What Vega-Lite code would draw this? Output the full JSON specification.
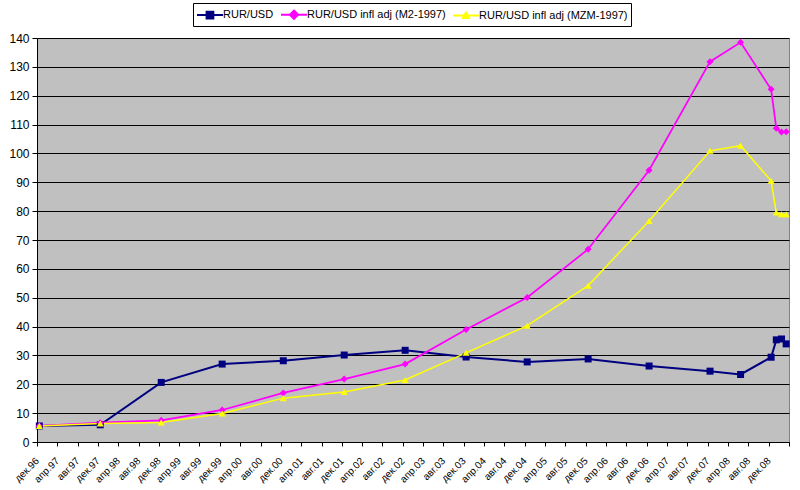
{
  "$schema": "https://vega.github.io/schema/vega-lite/v6.json",
  "width": 752,
  "height": 404,
  "autosize": "none",
  "padding": {"left": 37, "top": 38, "right": 11, "bottom": 48},
  "background": "#FFFFFF",
  "config": {
    "font": "Arial",
    "view": {"fill": "#C0C0C0", "stroke": "#808080", "strokeWidth": 1},
    "axis": {"labelFont": "Arial", "labelColor": "#000000", "labelFontSize": 11, "domainColor": "#000000", "tickColor": "#000000", "title": null},
    "legend": {"labelFont": "Arial"}
  },
  "data": {
    "values": [
      {"date": "1996-12-15T00:00:00", "series": "RUR/USD", "value": 5.56},
      {"date": "1997-12-15T00:00:00", "series": "RUR/USD", "value": 5.96},
      {"date": "1998-12-15T00:00:00", "series": "RUR/USD", "value": 20.65},
      {"date": "1999-12-15T00:00:00", "series": "RUR/USD", "value": 27.0},
      {"date": "2000-12-15T00:00:00", "series": "RUR/USD", "value": 28.16},
      {"date": "2001-12-15T00:00:00", "series": "RUR/USD", "value": 30.14},
      {"date": "2002-12-15T00:00:00", "series": "RUR/USD", "value": 31.78},
      {"date": "2003-12-15T00:00:00", "series": "RUR/USD", "value": 29.45},
      {"date": "2004-12-15T00:00:00", "series": "RUR/USD", "value": 27.75},
      {"date": "2005-12-15T00:00:00", "series": "RUR/USD", "value": 28.78},
      {"date": "2006-12-15T00:00:00", "series": "RUR/USD", "value": 26.33},
      {"date": "2007-12-15T00:00:00", "series": "RUR/USD", "value": 24.55},
      {"date": "2008-06-15T00:00:00", "series": "RUR/USD", "value": 23.4},
      {"date": "2008-12-15T00:00:00", "series": "RUR/USD", "value": 29.38},
      {"date": "2009-01-15T00:00:00", "series": "RUR/USD", "value": 35.4},
      {"date": "2009-02-15T00:00:00", "series": "RUR/USD", "value": 35.7},
      {"date": "2009-03-15T00:00:00", "series": "RUR/USD", "value": 34.0},
      {"date": "1996-12-15T00:00:00", "series": "RUR/USD infl adj (M2-1997)", "value": 5.56},
      {"date": "1997-12-15T00:00:00", "series": "RUR/USD infl adj (M2-1997)", "value": 6.7},
      {"date": "1998-12-15T00:00:00", "series": "RUR/USD infl adj (M2-1997)", "value": 7.5},
      {"date": "1999-12-15T00:00:00", "series": "RUR/USD infl adj (M2-1997)", "value": 11.1},
      {"date": "2000-12-15T00:00:00", "series": "RUR/USD infl adj (M2-1997)", "value": 17.0},
      {"date": "2001-12-15T00:00:00", "series": "RUR/USD infl adj (M2-1997)", "value": 21.8},
      {"date": "2002-12-15T00:00:00", "series": "RUR/USD infl adj (M2-1997)", "value": 27.0},
      {"date": "2003-12-15T00:00:00", "series": "RUR/USD infl adj (M2-1997)", "value": 39.0},
      {"date": "2004-12-15T00:00:00", "series": "RUR/USD infl adj (M2-1997)", "value": 50.1},
      {"date": "2005-12-15T00:00:00", "series": "RUR/USD infl adj (M2-1997)", "value": 66.8},
      {"date": "2006-12-15T00:00:00", "series": "RUR/USD infl adj (M2-1997)", "value": 94.2},
      {"date": "2007-12-15T00:00:00", "series": "RUR/USD infl adj (M2-1997)", "value": 131.8},
      {"date": "2008-06-15T00:00:00", "series": "RUR/USD infl adj (M2-1997)", "value": 138.5},
      {"date": "2008-12-15T00:00:00", "series": "RUR/USD infl adj (M2-1997)", "value": 122.2},
      {"date": "2009-01-15T00:00:00", "series": "RUR/USD infl adj (M2-1997)", "value": 108.7},
      {"date": "2009-02-15T00:00:00", "series": "RUR/USD infl adj (M2-1997)", "value": 107.4},
      {"date": "2009-03-15T00:00:00", "series": "RUR/USD infl adj (M2-1997)", "value": 107.5},
      {"date": "1996-12-15T00:00:00", "series": "RUR/USD infl adj (MZM-1997)", "value": 5.56},
      {"date": "1997-12-15T00:00:00", "series": "RUR/USD infl adj (MZM-1997)", "value": 6.4},
      {"date": "1998-12-15T00:00:00", "series": "RUR/USD infl adj (MZM-1997)", "value": 6.8},
      {"date": "1999-12-15T00:00:00", "series": "RUR/USD infl adj (MZM-1997)", "value": 9.9},
      {"date": "2000-12-15T00:00:00", "series": "RUR/USD infl adj (MZM-1997)", "value": 15.2},
      {"date": "2001-12-15T00:00:00", "series": "RUR/USD infl adj (MZM-1997)", "value": 17.3},
      {"date": "2002-12-15T00:00:00", "series": "RUR/USD infl adj (MZM-1997)", "value": 21.5},
      {"date": "2003-12-15T00:00:00", "series": "RUR/USD infl adj (MZM-1997)", "value": 30.9},
      {"date": "2004-12-15T00:00:00", "series": "RUR/USD infl adj (MZM-1997)", "value": 40.3},
      {"date": "2005-12-15T00:00:00", "series": "RUR/USD infl adj (MZM-1997)", "value": 54.2},
      {"date": "2006-12-15T00:00:00", "series": "RUR/USD infl adj (MZM-1997)", "value": 76.6},
      {"date": "2007-12-15T00:00:00", "series": "RUR/USD infl adj (MZM-1997)", "value": 100.9},
      {"date": "2008-06-15T00:00:00", "series": "RUR/USD infl adj (MZM-1997)", "value": 102.7},
      {"date": "2008-12-15T00:00:00", "series": "RUR/USD infl adj (MZM-1997)", "value": 90.5},
      {"date": "2009-01-15T00:00:00", "series": "RUR/USD infl adj (MZM-1997)", "value": 79.5},
      {"date": "2009-02-15T00:00:00", "series": "RUR/USD infl adj (MZM-1997)", "value": 78.9},
      {"date": "2009-03-15T00:00:00", "series": "RUR/USD infl adj (MZM-1997)", "value": 78.9}
    ]
  },
  "encoding": {
    "x": {
      "field": "date", "type": "temporal",
      "scale": {"domain": [{"year": 1996, "month": 12, "date": 1}, {"year": 2009, "month": 4, "date": 1}], "nice": false},
      "axis": {
        "values": [
          {"year": 1996, "month": 12, "date": 1},
          {"year": 1997, "month": 4, "date": 1}, {"year": 1997, "month": 8, "date": 1}, {"year": 1997, "month": 12, "date": 1},
          {"year": 1998, "month": 4, "date": 1}, {"year": 1998, "month": 8, "date": 1}, {"year": 1998, "month": 12, "date": 1},
          {"year": 1999, "month": 4, "date": 1}, {"year": 1999, "month": 8, "date": 1}, {"year": 1999, "month": 12, "date": 1},
          {"year": 2000, "month": 4, "date": 1}, {"year": 2000, "month": 8, "date": 1}, {"year": 2000, "month": 12, "date": 1},
          {"year": 2001, "month": 4, "date": 1}, {"year": 2001, "month": 8, "date": 1}, {"year": 2001, "month": 12, "date": 1},
          {"year": 2002, "month": 4, "date": 1}, {"year": 2002, "month": 8, "date": 1}, {"year": 2002, "month": 12, "date": 1},
          {"year": 2003, "month": 4, "date": 1}, {"year": 2003, "month": 8, "date": 1}, {"year": 2003, "month": 12, "date": 1},
          {"year": 2004, "month": 4, "date": 1}, {"year": 2004, "month": 8, "date": 1}, {"year": 2004, "month": 12, "date": 1},
          {"year": 2005, "month": 4, "date": 1}, {"year": 2005, "month": 8, "date": 1}, {"year": 2005, "month": 12, "date": 1},
          {"year": 2006, "month": 4, "date": 1}, {"year": 2006, "month": 8, "date": 1}, {"year": 2006, "month": 12, "date": 1},
          {"year": 2007, "month": 4, "date": 1}, {"year": 2007, "month": 8, "date": 1}, {"year": 2007, "month": 12, "date": 1},
          {"year": 2008, "month": 4, "date": 1}, {"year": 2008, "month": 8, "date": 1}, {"year": 2008, "month": 12, "date": 1},
          {"year": 2009, "month": 4, "date": 1}
        ],
        "labelExpr": "year(datum.value) == 2009 ? '' : ['янв','фев','мар','апр','май','июн','июл','авг','сен','окт','ноя','дек'][month(datum.value)] + '.' + timeFormat(datum.value, '%y')",
        "labelAngle": -45, "labelAlign": "right", "labelBaseline": "middle", "labelFontSize": 10,
        "labelOverlap": false, "labelBound": false, "labelFlush": false,
        "tickSize": 4, "labelPadding": 13, "grid": false
      }
    },
    "y": {
      "field": "value", "type": "quantitative",
      "scale": {"domain": [0, 140], "nice": false},
      "axis": {
        "values": [0, 10, 20, 30, 40, 50, 60, 70, 80, 90, 100, 110, 120, 130, 140],
        "grid": true, "gridColor": "#000000", "gridWidth": 1, "gridOpacity": 1,
        "tickSize": 5, "labelPadding": 3, "labelFontSize": 12
      }
    }
  },
  "layer": [
    {
      "mark": {"type": "line", "interpolate": "linear"},
      "encoding": {
        "color": {"field": "series", "type": "nominal", "scale": {"domain": ["RUR/USD", "RUR/USD infl adj (M2-1997)", "RUR/USD infl adj (MZM-1997)"], "range": ["#000080", "#FF00FF", "#FFFF00"]}, "legend": null},
        "strokeWidth": {"field": "series", "type": "nominal", "scale": {"domain": ["RUR/USD", "RUR/USD infl adj (M2-1997)", "RUR/USD infl adj (MZM-1997)"], "range": [2, 1.5, 1.5]}, "legend": null}
      }
    },
    {
      "mark": {"type": "point", "filled": true, "opacity": 1},
      "encoding": {
        "color": {"field": "series", "type": "nominal", "legend": null},
        "shape": {"field": "series", "type": "nominal", "scale": {"domain": ["RUR/USD", "RUR/USD infl adj (M2-1997)", "RUR/USD infl adj (MZM-1997)"], "range": ["square", "diamond", "triangle-up"]}, "legend": null},
        "size": {"field": "series", "type": "nominal", "scale": {"domain": ["RUR/USD", "RUR/USD infl adj (M2-1997)", "RUR/USD infl adj (MZM-1997)"], "range": [49, 49, 25]}, "legend": null}
      }
    },
    {
      "transform": [{"filter": "false"}],
      "mark": {"type": "point", "filled": true, "strokeWidth": 2, "opacity": 1},
      "encoding": {
        "shape": {"field": "series", "type": "nominal",
          "scale": {"domain": ["RUR/USD", "RUR/USD infl adj (M2-1997)", "RUR/USD infl adj (MZM-1997)"],
                    "range": ["M-1,0H2.47M0.28,-0.45H1.18V0.45H0.28Z", "M-1,0H2.47M0.73,-0.55L1.28,0L0.73,0.55L0.18,0Z", "M-1,0H2.47M0.73,-0.4L1.13,0.33L0.33,0.33Z"]},
          "legend": {"title": null, "orient": "none", "legendX": 156, "legendY": -35, "direction": "horizontal",
                     "symbolSize": 225, "symbolStrokeWidth": 2, "symbolOpacity": 1, "labelFont": "Arial", "labelFontSize": 11, "labelColor": "#000000",
                     "labelOffset": 10, "columnPadding": 3, "padding": 3, "strokeColor": "#000000", "fillColor": "#FFFFFF", "labelLimit": 300}},
        "fill": {"field": "series", "type": "nominal", "scale": {"domain": ["RUR/USD", "RUR/USD infl adj (M2-1997)", "RUR/USD infl adj (MZM-1997)"], "range": ["#000080", "#FF00FF", "#FFFF00"]},
          "legend": {"title": null, "orient": "none", "legendX": 156, "legendY": -35, "direction": "horizontal",
                     "symbolSize": 225, "symbolStrokeWidth": 2, "symbolOpacity": 1, "labelFont": "Arial", "labelFontSize": 11, "labelColor": "#000000",
                     "labelOffset": 10, "columnPadding": 3, "padding": 3, "strokeColor": "#000000", "fillColor": "#FFFFFF", "labelLimit": 300}},
        "stroke": {"field": "series", "type": "nominal", "scale": {"domain": ["RUR/USD", "RUR/USD infl adj (M2-1997)", "RUR/USD infl adj (MZM-1997)"], "range": ["#000080", "#FF00FF", "#FFFF00"]},
          "legend": {"title": null, "orient": "none", "legendX": 156, "legendY": -35, "direction": "horizontal",
                     "symbolSize": 225, "symbolStrokeWidth": 2, "symbolOpacity": 1, "labelFont": "Arial", "labelFontSize": 11, "labelColor": "#000000",
                     "labelOffset": 10, "columnPadding": 3, "padding": 3, "strokeColor": "#000000", "fillColor": "#FFFFFF", "labelLimit": 300}}
      }
    }
  ],
  "resolve": {"scale": {"shape": "independent", "fill": "independent", "stroke": "independent"}}
}
